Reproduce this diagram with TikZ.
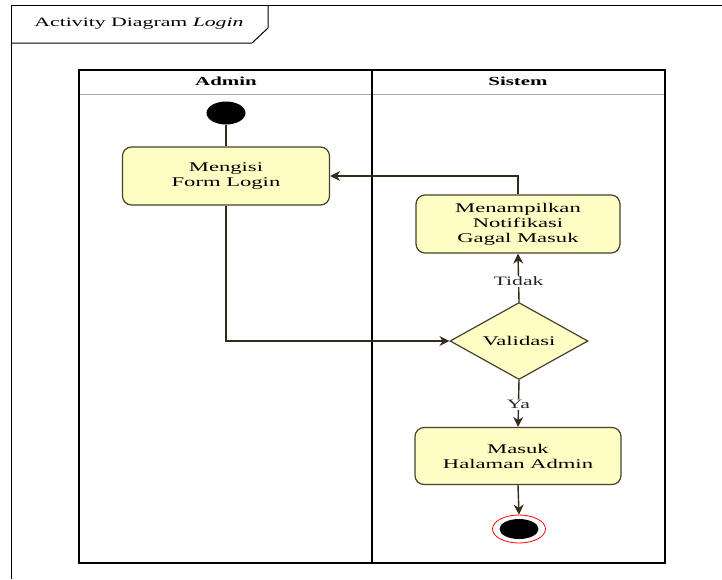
\documentclass[tikz,border=0pt]{standalone}
\usepackage{fontspec}
\setmainfont{Liberation Serif}[FakeStretch=1.7]
\usetikzlibrary{shapes.geometric,arrows.meta}
\definecolor{boxfill}{RGB}{254,254,196}
\definecolor{boxline}{RGB}{74,64,42}
\definecolor{arrowc}{RGB}{52,42,26}
\tikzset{
  act/.style={draw=boxline, fill=boxfill, line width=1.2pt, rounded corners=9pt, align=center,
    font=\fontsize{13.3}{15}\selectfont, inner sep=0pt},
  dec/.style={draw=boxline, fill=boxfill, line width=1.2pt, diamond, aspect=1.8, inner sep=0pt,
    font=\fontsize{13.3}{15}\selectfont},
  flow/.style={draw=arrowc, line width=1.4pt, -{Stealth[length=10pt,width=10pt]}},
  plain/.style={draw=arrowc, line width=1.4pt},
  guard/.style={fill=white, inner sep=1pt, font=\fontsize{12.8}{14}\selectfont, text=black!85},
  lane/.style={font=\bfseries\fontsize{12.3}{14}\selectfont}
}
\begin{document}
\begin{tikzpicture}[x=1pt,y=-1pt]
\useasboundingbox (0,0) rectangle (722,579);
% outer frame
\draw[line width=1pt] (11,579) -- (11,5) -- (722,5);
\draw[line width=1pt] (11,43) -- (252,43) -- (268,28) -- (268,5);
\node[font=\fontsize{12.8}{14}\selectfont] (title) at (139,24) {Activity Diagram \textit{Login}};
% swimlanes
\draw[black!35, line width=1pt] (79,94) -- (665,94);
\draw[line width=1.3pt] (79,70) rectangle (665,563);
\draw[line width=1.3pt] (372,70) -- (372,563);
\node[lane] (hadmin) at (226,81) {Admin};
\node[lane] (hsistem) at (518,81) {Sistem};
% nodes
\node[ellipse, fill=black, minimum width=39pt, minimum height=23pt, inner sep=0pt] (start) at (226,113) {};
\node[act, minimum width=207pt, minimum height=58pt] (isi) at (226,176) {Mengisi\\Form Login};
\node[act, minimum width=204pt, minimum height=58pt] (notif) at (518,224) {Menampilkan\\Notifikasi\\Gagal Masuk};
\node[dec, minimum width=138pt, minimum height=77pt] (val) at (519,341) {Validasi};
\node[act, minimum width=206pt, minimum height=57pt] (masuk) at (518,456) {Masuk\\Halaman Admin};
\node[ellipse, draw=red, line width=0.8pt, fill=white, minimum width=53pt, minimum height=28pt, inner sep=0pt] (endo) at (519,529) {};
\node[ellipse, fill=black, minimum width=39pt, minimum height=20pt, inner sep=0pt] (endi) at (519,529) {};
% connectors
\draw[plain] (start) -- (isi);
\draw[flow] (isi.south) |- (val.west);
\draw[flow] (val.north) -- node[guard, pos=0.42] (tidak) {Tidak} (notif.south);
\draw[flow] (notif.north) |- (isi.east);
\draw[flow] (val.south) -- node[guard, pos=0.52] (ya) {Ya} (masuk.north);
\draw[flow] (masuk.south) -- (endo.north);
\end{tikzpicture}
\end{document}
